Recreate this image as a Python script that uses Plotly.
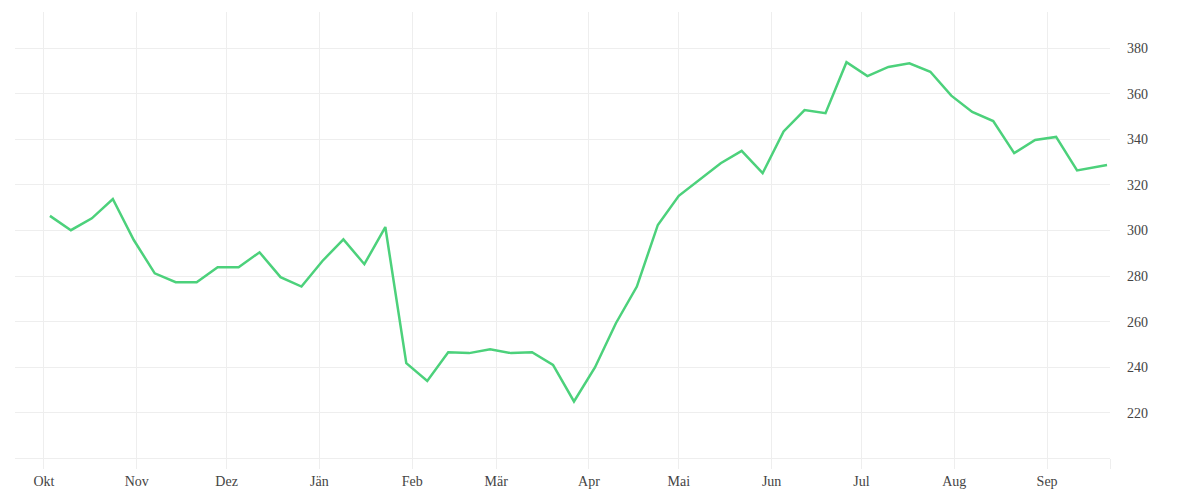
import pandas as pd
import plotly.graph_objects as go

# weekly values, Oct 2022 - Sep 2023 (last point is a partial week)
week_starts = list(pd.date_range("2022-10-03", periods=51, freq="7D"))
dates = week_starts + [pd.Timestamp("2023-09-21")]

values = [
    306.4, 300.1, 305.3, 313.8, 295.8, 281.2, 277.3, 277.3, 283.9, 283.9,
    290.4, 279.5, 275.4, 286.6, 296.1, 285.2, 301.5, 241.8, 234.0, 246.6,
    246.2, 247.9, 246.2, 246.6, 241.0, 225.0, 239.9, 259.3, 275.4, 302.4,
    315.2, 322.2, 329.5, 334.9, 325.1, 343.4, 352.8, 351.4, 373.8, 367.7,
    371.7, 373.3, 369.6, 359.1, 352.0, 348.0, 333.9, 339.7, 341.0, 326.3,
    327.9, 328.7,
]

month_ticks = list(pd.date_range("2022-10-01", periods=12, freq="MS"))
month_labels = ["Okt", "Nov", "Dez", "Jän", "Feb", "Mär", "Apr", "Mai",
                "Jun", "Jul", "Aug", "Sep"]
x_end = pd.Timestamp("2023-09-22")

y_ticks = [220, 240, 260, 280, 300, 320, 340, 360, 380]

grid = "#eeeeee"

fig = go.Figure()
fig.add_trace(go.Scatter(
    x=dates,
    y=values,
    mode="lines",
    line=dict(color="#4cd17b", width=2.5),
    hoverinfo="x+y",
))

# page body has an 8px margin, so size the figure to fit inside it
fig.update_layout(
    width=1184,
    height=484,
    margin=dict(l=7, r=82, t=4, b=34),
    plot_bgcolor="white",
    paper_bgcolor="white",
    showlegend=False,
    font=dict(family="Liberation Serif", size=14, color="#444444"),
)

fig.update_xaxes(
    range=[pd.Timestamp("2022-09-21 08:00"), x_end],
    tickvals=month_ticks + [x_end],
    ticktext=month_labels + [""],
    showgrid=True,
    gridcolor=grid,
    gridwidth=1,
    ticks="outside",
    ticklen=10,
    tickcolor=grid,
    showline=True,
    linecolor=grid,
    linewidth=1,
    zeroline=False,
)

fig.update_yaxes(
    side="right",
    range=[200.2, 395.8],
    tickvals=y_ticks,
    showgrid=True,
    gridcolor=grid,
    gridwidth=1,
    showline=False,
    zeroline=False,
    ticks="",
    ticklabelstandoff=16,
)

fig.write_html("out.html")
